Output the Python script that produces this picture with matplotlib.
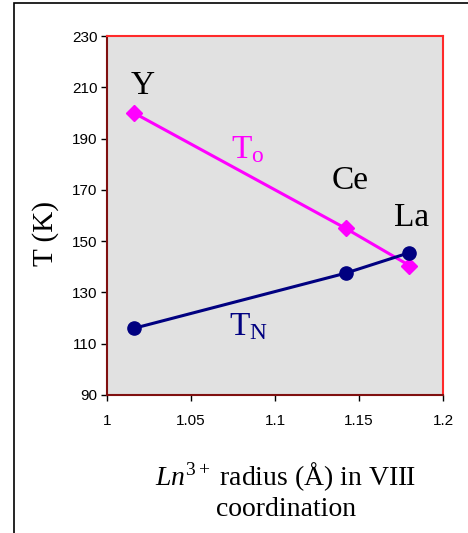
import matplotlib
matplotlib.use("Agg")
import matplotlib.pyplot as plt
from matplotlib.patches import Rectangle

# ---------------------------------------------------------------------------
#  Data
# ---------------------------------------------------------------------------
elements = ["Y", "Ce", "La"]
radius = [1.016, 1.142, 1.180]
t_o = [200.0, 155.0, 140.5]
t_n = [116.0, 137.5, 145.5]

x_ticks = [1, 1.05, 1.1, 1.15, 1.2]
x_tick_labels = ["1", "1.05", "1.1", "1.15", "1.2"]
y_ticks = [90, 110, 130, 150, 170, 190, 210, 230]

# label anchors (data coords) for element names and series names
element_label_pos = [(1.0215, 210.5), (1.1445, 173.5), (1.1815, 159.0)]
series_label_pos = {"To": (1.0835, 185.5), "TN": (1.0845, 116.5)}

plt.rcParams["font.family"] = ["Liberation Sans", "DejaVu Sans"]
plt.rcParams["mathtext.fontset"] = "custom"
plt.rcParams["mathtext.rm"] = "Liberation Serif"
plt.rcParams["mathtext.it"] = "Liberation Serif:italic"

serif = ["Liberation Serif", "DejaVu Serif"]

fig = plt.figure(figsize=(4.68, 5.33), dpi=100)

# outer chart frame (runs off the right and bottom edges)
fig.patches.append(Rectangle((14 / 468, -0.1), 1.2, 1.1 - 3 / 533,
                             transform=fig.transFigure, fill=False,
                             edgecolor="black", linewidth=1.2))

ax = fig.add_axes([107 / 468, 1 - 395 / 533, 336 / 468, 359 / 533])
ax.set_facecolor("#e1e1e1")

ax.plot(radius, t_o, color="#ff00ff", linewidth=2.2, marker="D",
        markersize=8.5, zorder=3)
ax.plot(radius, t_n, color="#000080", linewidth=2.2, marker="o",
        markersize=9.5, zorder=3)

ax.set_xlim(1, 1.2)
ax.set_ylim(90, 230)
ax.set_xticks(x_ticks)
ax.set_xticklabels(x_tick_labels)
ax.set_yticks(y_ticks)
ax.tick_params(axis="both", direction="out", length=4, width=1,
               color="black", labelsize=11)
ax.tick_params(axis="x", pad=10)
ax.tick_params(axis="y", pad=3)

for side in ["top", "right"]:
    ax.spines[side].set_color("#ff2a2a")
    ax.spines[side].set_linewidth(1.5)
for side in ["left", "bottom"]:
    ax.spines[side].set_color("#801010")
    ax.spines[side].set_linewidth(1.5)

for name, (x, y) in zip(elements, element_label_pos):
    ax.text(x, y, name, fontsize=24, family=serif, ha="center", va="center")

ax.text(*series_label_pos["To"], r"T$_\mathrm{o}$", fontsize=24,
        family=serif, color="#ff00ff", ha="center", va="center")
ax.text(*series_label_pos["TN"], r"T$_\mathrm{N}$", fontsize=24,
        family=serif, color="#000080", ha="center", va="center")

fig.text(46 / 468, 1 - 233 / 533, "T (K)", rotation=90, fontsize=21,
         family=serif, ha="center", va="center")
fig.text(286 / 468, 1 - 477 / 533,
         "$\\mathit{Ln}^{3+}$ radius (Å) in VIII",
         fontsize=20, family=serif, ha="center", va="center")
fig.text(286 / 468, 1 - 510 / 533, "coordination",
         fontsize=20, family=serif, ha="center", va="center")

fig.savefig("out.png", dpi=100)
